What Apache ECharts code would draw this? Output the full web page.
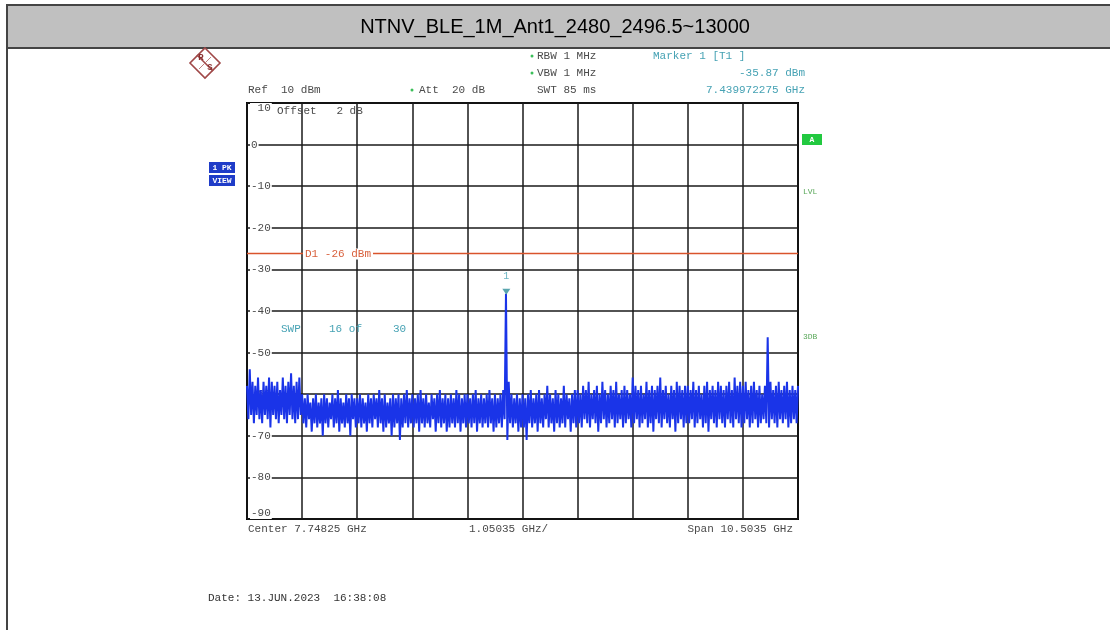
<!DOCTYPE html>
<html><head><meta charset="utf-8">
<script src="https://cdn.jsdelivr.net/npm/echarts@6/dist/echarts.min.js"></script>
<style>html,body{margin:0;padding:0;background:#fff}#c{width:1110px;height:630px}</style>
</head><body><div id="c"></div>
<script>
// ---- data ----
const chartTitle = 'NTNV_BLE_1M_Ant1_2480_2496.5~13000';
const startGHz = 2.4965;
const stopGHz = 13.0;
const yMin = -90, yMax = 10, yStep = 10;
const limitD1 = -26;
const marker1 = [7.439972275, -35.87];
// trace (dBm), sweep points evenly spread from start to stop, read per screen division
const div1 = [-58,-66,-54,-65,-57,-67,-58,-65,-56,-66,-59,-67,-57,-65,-58,-66,-56,-68,-57,-65,-58,-66,-57,-67,-59,-65,-56,-66,-58,-67,-57,-65,-55,-66,-58,-67,-57,-66,-56,-65];
const div2 = [-60,-67,-61,-68,-60,-66,-62,-69,-61,-67,-60,-68,-62,-67,-61,-70,-60,-67,-61,-68,-62,-66,-60,-68,-61,-67,-59,-69,-61,-67,-62,-68,-60,-67,-61,-70,-60,-66,-61,-68];
const div3 = [-61,-67,-60,-68,-61,-67,-62,-69,-60,-67,-61,-68,-60,-66,-61,-68,-59,-67,-61,-69,-60,-68,-62,-67,-61,-70,-60,-68,-61,-67,-60,-71,-61,-68,-60,-67,-59,-68,-61,-67];
const div4 = [-60,-68,-61,-67,-60,-69,-59,-67,-61,-68,-60,-67,-62,-68,-60,-66,-61,-69,-60,-67,-59,-68,-61,-67,-60,-69,-61,-68,-60,-67,-61,-68,-59,-67,-60,-69,-61,-67,-60,-68];
const div5 = [-60,-67,-61,-68,-60,-67,-59,-69,-61,-67,-60,-68,-61,-67,-60,-68,-59,-67,-61,-69,-60,-68,-61,-67,-60,-68,-59,-66,-35.87,-71,-57,-67,-60,-68,-61,-67,-60,-69,-61,-68];
const div6 = [-60,-68,-61,-71,-60,-67,-59,-68,-61,-67,-60,-69,-59,-67,-61,-68,-60,-66,-58,-68,-60,-67,-61,-69,-59,-67,-60,-68,-61,-67,-58,-68,-60,-66,-61,-69,-60,-67,-59,-68];
const div7 = [-59,-67,-60,-68,-58,-66,-59,-67,-57,-68,-60,-66,-59,-67,-58,-69,-60,-67,-57,-66,-59,-68,-60,-67,-58,-66,-59,-68,-57,-67,-60,-66,-59,-68,-58,-67,-59,-66,-60,-68];
const div8 = [-56,-67,-58,-66,-59,-68,-58,-67,-60,-66,-57,-68,-59,-67,-58,-69,-59,-66,-58,-67,-56,-68,-59,-66,-58,-67,-60,-68,-58,-66,-59,-69,-57,-67,-58,-66,-59,-68,-58,-67];
const div9 = [-58,-67,-59,-66,-57,-68,-59,-67,-58,-66,-60,-68,-58,-67,-57,-69,-59,-66,-58,-67,-59,-68,-57,-66,-58,-67,-59,-68,-58,-66,-57,-67,-59,-68,-56,-66,-58,-67,-57,-68];
const div10 = [-58,-67,-57,-66,-59,-68,-58,-67,-57,-66,-59,-68,-58,-67,-60,-66,-58,-67,-46.3,-68,-57,-66,-59,-67,-58,-68,-57,-66,-59,-67,-58,-66,-57,-68,-59,-67,-58,-66,-59,-67,-58];

const trace = [].concat(div1,div2,div3,div4,div5,div6,div7,div8,div9,div10);
const stepGHz = (stopGHz - startGHz) / (trace.length - 1);
const traceData = trace.map((v, i) => [startGHz + i * stepGHz, v]);

const MONO = '"Liberation Mono", "DejaVu Sans Mono", monospace';
const GRAY = '#4a4a4a';
const TEAL = '#46a2b4';

function txt(x, y, s, opt) {
  opt = opt || {};
  return {
    type: 'text', x: x, y: y, z: 100,
    style: {
      text: s, fill: opt.color || GRAY, font: (opt.size || 11) + 'px ' + MONO,
      align: opt.align || 'left', verticalAlign: 'middle',
      backgroundColor: opt.bg, padding: opt.pad
    }
  };
}
function box(x, y, w, h, color, s, tc) {
  return { type: 'group', z: 100, children: [
    { type: 'rect', shape: { x: x, y: y, width: w, height: h }, style: { fill: color } },
    { type: 'text', x: x + w / 2, y: y + h / 2 + 0.5, style: { text: s, fill: tc || '#fff', font: 'bold 8px ' + MONO, align: 'center', verticalAlign: 'middle' } }
  ]};
}
function dot(x, y) {
  return { type: 'circle', z: 100, shape: { cx: x, cy: y, r: 1.5 }, style: { fill: '#3cbf5a' } };
}

const chart = echarts.init(document.getElementById('c'), null, { renderer: 'canvas' });
chart.setOption({
  animation: false,
  backgroundColor: '#fff',
  grid: { left: 247, top: 103, width: 551, height: 416, show: true, borderColor: '#000', borderWidth: 2, backgroundColor: 'transparent' },
  xAxis: [
    { type: 'value', min: startGHz, max: stopGHz, show: false },
    { type: 'value', min: 0, max: 10, interval: 1, axisLine: { show: false }, axisTick: { show: false }, axisLabel: { show: false },
      splitLine: { show: true, lineStyle: { color: '#1a1a1a', width: 1.5 } } }
  ],
  yAxis: {
    type: 'value', min: yMin, max: yMax, interval: yStep,
    axisLine: { show: false }, axisTick: { show: false },
    splitLine: { show: true, lineStyle: { color: '#1a1a1a', width: 1.5 } },
    axisLabel: {
      inside: true, margin: 3, color: GRAY, fontFamily: MONO, fontSize: 11,
      backgroundColor: '#fff', padding: [0, 1],
      verticalAlignMaxLabel: 'top', verticalAlignMinLabel: 'bottom',
      formatter: v => (v === yMax ? ' ' + v : String(v))
    }
  },
  series: [
    {
      type: 'line', xAxisIndex: 0, data: traceData, showSymbol: false, symbol: 'none',
      lineStyle: { color: '#1a34e8', width: 2 }, sampling: null, silent: true, z: 5,
      markLine: {
        silent: true, symbol: 'none', label: { show: false },
        lineStyle: { color: '#d9542c', width: 1.3, type: 'solid' },
        data: [{ yAxis: limitD1 }]
      }
    },
    {
      type: 'scatter', xAxisIndex: 0, data: [marker1], symbol: 'triangle', symbolRotate: 180,
      symbolSize: [8, 6], symbolOffset: [0, -2], itemStyle: { color: '#2f8f9a' }, z: 10,
      label: { show: true, formatter: '1', position: 'top', distance: 7, color: TEAL, fontFamily: MONO, fontSize: 10 }
    }
  ],
  graphic: [
    // outer frame and title bar
    { type: 'rect', z: 0, shape: { x: 7, y: 5, width: 1120, height: 640 }, style: { fill: 'none', stroke: '#444', lineWidth: 2 } },
    { type: 'rect', z: 1, shape: { x: 7, y: 5, width: 1120, height: 43 }, style: { fill: '#c0c0c0', stroke: '#444', lineWidth: 2 } },
    { type: 'text', z: 2, x: 555, y: 27, style: { text: chartTitle, fill: '#000', font: '20px "Liberation Sans", Arial, sans-serif', align: 'center', verticalAlign: 'middle' } },
    // R&S logo
    { type: 'polygon', z: 100, shape: { points: [[205, 48], [220, 63], [205, 78], [190, 63]] }, style: { fill: 'none', stroke: '#a04848', lineWidth: 1.6 } },
    { type: 'line', z: 100, shape: { x1: 197, y1: 55, x2: 213, y2: 71 }, style: { stroke: '#a04848', lineWidth: 1.6 } },
    { type: 'line', z: 100, shape: { x1: 199, y1: 69, x2: 211, y2: 57 }, style: { stroke: '#c08080', lineWidth: 1 } },
    { type: 'text', z: 100, x: 201, y: 58, style: { text: 'R', fill: '#8a3030', font: 'bold 9px ' + MONO, align: 'center', verticalAlign: 'middle' } },
    { type: 'text', z: 100, x: 210, y: 68, style: { text: 'S', fill: '#8a3030', font: 'bold 9px ' + MONO, align: 'center', verticalAlign: 'middle' } },
    // header texts
    txt(248, 90, 'Ref  10 dBm'),
    dot(412, 90), txt(419, 90, 'Att  20 dB'),
    dot(532, 56), txt(537, 56, 'RBW 1 MHz'),
    dot(532, 73), txt(537, 73, 'VBW 1 MHz'),
    txt(537, 90, 'SWT 85 ms'),
    txt(653, 56, 'Marker 1 [T1 ]', { color: TEAL }),
    txt(805, 73, '-35.87 dBm', { color: TEAL, align: 'right' }),
    txt(805, 90, '7.439972275 GHz', { color: TEAL, align: 'right' }),
    // inside plot
    txt(277, 111, 'Offset   2 dB'),
    txt(303, 254, 'D1 -26 dBm', { color: '#d8603c', bg: '#fff', pad: [0, 2] }),
    txt(281, 329, 'SWP', { color: TEAL }),
    txt(329, 329, '16 of', { color: TEAL }),
    txt(393, 329, '30', { color: TEAL }),
    // side boxes
    box(209, 162, 26, 11, '#1f3cc8', '1 PK'),
    box(209, 175, 26, 11, '#1f3cc8', 'VIEW'),
    box(802, 134, 20, 11, '#22c940', 'A'),
    txt(803, 192, 'LVL', { color: '#5aa85a', size: 8 }),
    txt(803, 337, '3DB', { color: '#5aa85a', size: 8 }),
    // bottom texts
    txt(248, 529, 'Center 7.74825 GHz'),
    txt(469, 529, '1.05035 GHz/'),
    txt(793, 529, 'Span 10.5035 GHz', { align: 'right' }),
    txt(208, 598, 'Date: 13.JUN.2023  16:38:08', { color: '#333' })
  ]
});
</script>
</body></html>
